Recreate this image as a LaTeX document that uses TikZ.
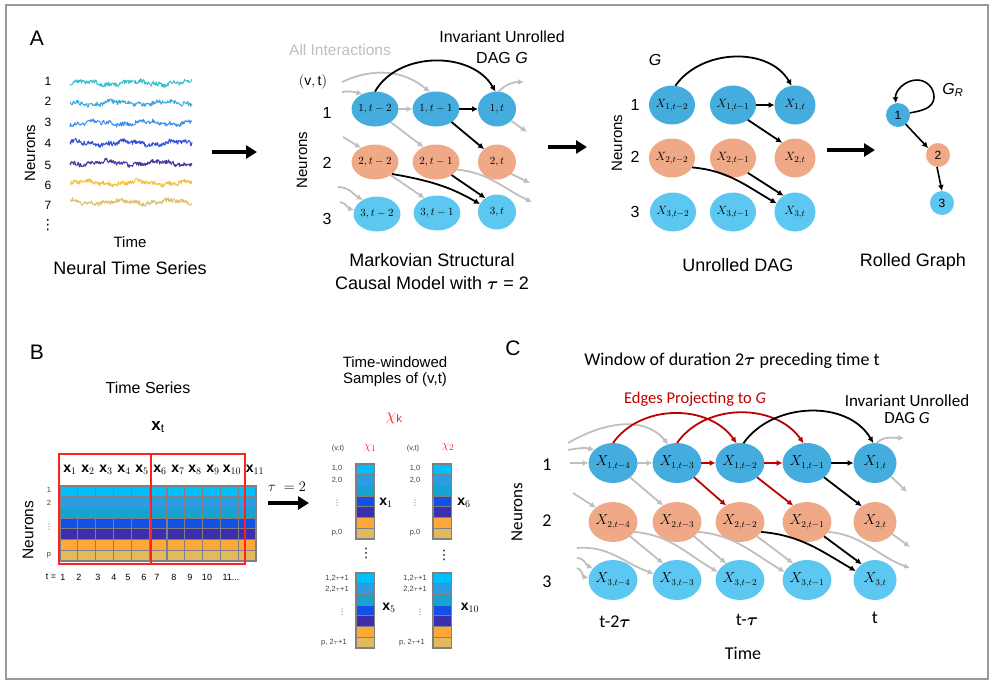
\documentclass[tikz,border=0pt]{standalone}
\usepackage{fontspec}
\setmainfont{Liberation Sans}
\newfontfamily\calib{Carlito}
\newfontfamily\djv{DejaVu Sans}
\usepackage{amsmath,bm}
\usetikzlibrary{arrows.meta,shapes.geometric}
\newcommand{\myfs}[1]{\fontsize{#1}{#1}\selectfont}
\newcommand{\vdt}{{\djv ⋮}}
\definecolor{cA}{HTML}{45ADDE}
\definecolor{cB}{HTML}{F0A986}
\definecolor{cC}{HTML}{5CC8F2}
\definecolor{ga}{HTML}{BFBFBF}
\definecolor{dred}{HTML}{C00000}
\definecolor{brd}{HTML}{FF2020}
\definecolor{frm}{HTML}{9A9A9A}
\definecolor{gl}{HTML}{808080}
\definecolor{g1}{HTML}{00BFFF}
\definecolor{g2}{HTML}{2D9DE3}
\definecolor{g3}{HTML}{17A3CF}
\definecolor{g4}{HTML}{1450E6}
\definecolor{g5}{HTML}{3B2FB0}
\definecolor{g6}{HTML}{FFA83A}
\definecolor{g7}{HTML}{E3B95F}
\definecolor{t1}{HTML}{3DBFCF}
\definecolor{t2}{HTML}{3BA8DC}
\definecolor{t3}{HTML}{3A90E8}
\definecolor{t4}{HTML}{3551D4}
\definecolor{t5}{HTML}{4B3A9E}
\definecolor{t6}{HTML}{F8BE3A}
\definecolor{t7}{HTML}{DDC070}
\tikzset{
  every node/.style={inner sep=0pt, outer sep=0pt},
  ndA/.style={ellipse, minimum width=38pt, minimum height=35pt, font=\myfs{10.5}},
  ndR/.style={ellipse, minimum width=41pt, minimum height=39pt, font=\myfs{13}},
  ndC/.style={ellipse, minimum width=43pt, minimum height=40pt, font=\myfs{13.5}},
  ra/.style={fill=cA}, rb/.style={fill=cB}, rc/.style={fill=cC},
  blk/.style={draw=black, line width=1.8pt, -{Latex[length=6pt,width=6pt]}},
  gry/.style={draw=ga, line width=1.8pt, -{Latex[length=6pt,width=6pt]}},
  redar/.style={draw=dred, line width=1.8pt, -{Latex[length=6pt,width=6pt]}},
  bigarr/.style={draw=black, line width=4pt, -{Triangle[length=11pt,width=13pt]}},
  cell/.style={draw=gl, line width=1.2pt},
  tiny/.style={font=\myfs{7.5}, text=black!75},
}
\begin{document}
\begin{tikzpicture}[x=1pt,y=1pt]
\useasboundingbox (0,0) rectangle (997,-689);
\draw[draw=frm, line width=2pt] (6,-5) rectangle (988,-679);

%% ---------------- Panel A left
\node[font=\myfs{21}] (labA) at (37,-38) {A};
\foreach \i/\yy in {1/81,2/101,3/122,4/143,5/165,6/185,7/205}
  \node[font=\myfs{12}] (nl\i) at (48,-\yy) {\i};
\node[font=\myfs{14}] (nldots) at (48,-225) {\vdt};
\node[font=\myfs{15}, rotate=90] (neurA) at (30,-153) {Neurons};
\node[font=\myfs{15}] (timeA) at (130,-242) {Time};
\node[font=\myfs{18}] (ntsA) at (130,-268) {Neural Time Series};
\pgfmathsetseed{11}
\foreach \yy/\cc in {83/t1,103/t2,123/t3,143/t4,163/t5,183/t6,202/t7}
  \draw[\cc, line width=1pt, line join=round] plot[domain=70:192, samples=200]
     (\x,{-\yy + 1.6*sin(7*\x+\yy*7) + 1.0*sin(23*\x+\yy) + 2.2*rand});
\coordinate (a1s) at (212,-152);
\coordinate (a1e) at (257,-152);
\draw[bigarr] (a1s) -- (a1e);

%% ---------------- Panel A middle
\node[font=\myfs{15.5}, text=ga] (allint) at (340,-50) {All Interactions};
\node[font=\myfs{16}] (invA1) at (502,-37) {Invariant Unrolled};
\node[font=\myfs{16}] (invA2) at (502,-58) {DAG \textit{G}};
\node[font=\myfs{14}] (vt) at (313,-82) {$(\mathrm{v},\mathrm{t})$};
\node[font=\myfs{16}] (mr1) at (327,-113) {1};
\node[font=\myfs{16}] (mr2) at (327,-163) {2};
\node[font=\myfs{16}] (mr3) at (327,-219) {3};
\node[font=\myfs{15}, rotate=90] (neurM) at (302,-160) {Neurons};
\node[ndA, ra] (m11) at (375,-109) {$1,t-2$};
\node[ndA, ra] (m12) at (436,-109) {$1,t-1$};
\node[ndA, ra] (m13) at (497,-109) {$1,t$};
\node[ndA, rb] (m21) at (375,-162) {$2,t-2$};
\node[ndA, rb] (m22) at (436,-162) {$2,t-1$};
\node[ndA, rb] (m23) at (497,-162) {$2,t$};
\node[ndA, rc] (m31) at (377,-214) {$3,t-2$};
\node[ndA, rc] (m32) at (437,-213) {$3,t-1$};
\node[ndA, rc] (m33) at (497,-212) {$3,t$};
\node[font=\myfs{18}] (mk1) at (432,-260) {Markovian Structural};
\node[font=\myfs{18}] (mk2) at (432,-283) {Causal Model with $\bm{\tau}$ = 2};
% gray free ends
\coordinate (mgi1) at (342,-82);
\coordinate (mgi2) at (342,-92);
\coordinate (mgi3) at (343,-137);
\coordinate (mgi4) at (338,-187);
\coordinate (mgi5) at (340,-202);
\coordinate (mgo1) at (524,-82);
\coordinate (mgo2) at (527,-132);
\coordinate (mgo3) at (532,-202);
\coordinate (mgo4) at (530,-183);
\draw[gry] (mgi1) to[out=25,in=140] (m12.110);
\draw[gry] (mgi2) to[out=10,in=165] (m11.130);
\draw[gry] (m11.east) -- (m12.west);
\draw[gry] (m11.-40) -- (m22.130);
\draw[gry] (m13.85) to[out=45,in=180] (mgo1);
\draw[gry] (m13.-40) -- (mgo2);
\draw[gry] (mgi3) -- (m21.135);
\draw[gry] (m21.-40) -- (m32.130);
\draw[gry] (m22.-20) to[out=-5,in=155] (mgo3);
\draw[gry] (m23.-40) -- (mgo4);
\draw[gry] (mgi4) to[out=0,in=150] (m31.135);
\draw[gry] (mgi5) to[out=-10,in=165] (m31.170);
% black
\draw[blk] (m11.90) to[out=60,in=120] (m13.95);
\draw[blk] (m12.east) -- (m13.west);
\draw[blk] (m12.-40) -- (m23.135);
\draw[blk] (m21.-35) to[out=-10,in=150] (m33.155);
\draw[blk] (m22.-40) -- (m33.130);
\coordinate (a2s) at (548,-147);
\coordinate (a2e) at (587,-147);
\draw[bigarr] (a2s) -- (a2e);

%% ---------------- Panel A right
\node[font=\myfs{16}] (Glab) at (655,-60) {\textit{G}};
\node[font=\myfs{16}] (rr1) at (635,-105) {1};
\node[font=\myfs{16}] (rr2) at (635,-157) {2};
\node[font=\myfs{16}] (rr3) at (635,-212) {3};
\node[font=\myfs{15}, rotate=90] (neurR) at (617,-143) {Neurons};
\node[ndR, ra] (r11) at (672,-105) {$X_{1,t-2}$};
\node[ndR, ra] (r12) at (733,-105) {$X_{1,t-1}$};
\node[ndR, ra] (r13) at (795,-105) {$X_{1,t}$};
\node[ndR, rb] (r21) at (672,-158) {$X_{2,t-2}$};
\node[ndR, rb] (r22) at (733,-158) {$X_{2,t-1}$};
\node[ndR, rb] (r23) at (795,-158) {$X_{2,t}$};
\node[ndR, rc] (r31) at (673,-212) {$X_{3,t-2}$};
\node[ndR, rc] (r32) at (733,-212) {$X_{3,t-1}$};
\node[ndR, rc] (r33) at (795,-212) {$X_{3,t}$};
\draw[blk] (r11.80) to[out=55,in=120] (r13.100);
\draw[blk] (r12.east) -- (r13.west);
\draw[blk] (r12.-45) -- (r23.130);
\draw[blk] (r21.-25) to[out=-5,in=150] (r33.155);
\draw[blk] (r22.-45) -- (r33.125);
\node[font=\myfs{18}] (unr) at (738,-265) {Unrolled DAG};
\coordinate (a3s) at (827,-150);
\coordinate (a3e) at (875,-150);
\draw[bigarr] (a3s) -- (a3e);
% rolled graph
\node[circle, minimum size=24pt, fill=cA, font=\myfs{12}] (q1) at (898,-115) {1};
\node[circle, minimum size=24pt, fill=cB, font=\myfs{12}] (q2) at (938,-155) {2};
\node[circle, minimum size=24pt, fill=cC, font=\myfs{12}] (q3) at (942,-203) {3};
\coordinate (lp1) at (934,-97);
\coordinate (lp2) at (917,-80);
\draw[blk, line width=1.6pt] (q1.10) to[out=10,in=-90] (lp1) to[out=90,in=0] (lp2) to[out=180,in=95] (q1.100);
\draw[blk, line width=1.6pt] (q1.-50) -- (q2.145);
\draw[blk, line width=1.6pt] (q2.-95) -- (q3.90);
\node[font=\myfs{16}] (GR) at (953,-90) {\textit{G}\textsubscript{\textit{R}}};
\node[font=\myfs{18}] (rolled) at (913,-262) {Rolled Graph};

%% ---------------- Panel B left
\node[font=\myfs{21}] (labB) at (37,-352) {B};
\node[font=\myfs{16}] (tsB) at (148,-388) {Time Series};
\node[font=\myfs{17}] (xtB) at (158,-427) {\textbf{x}\textsubscript{t}};
\foreach \c in {0,...,10}
  \foreach \r/\col in {0/g1,1/g2,2/g3,3/g4,4/g5,5/g6,6/g7}
    \filldraw[cell, fill=\col] ({60+\c*17.82},{-486-\r*10.71}) rectangle ++(17.82,-10.71);
\draw[brd, line width=1.4pt] (59,-454) rectangle (151,-564);
\draw[brd, line width=1.4pt] (151,-454) rectangle (245,-564);
\foreach \i/\xx in {1/70,2/88,3/106,4/124,5/142,6/160,7/178,8/195,9/213,10/232,11/255}
  \node[font=\myfs{14}] (xl\i) at (\xx,-470) {\textbf{x}$_{\i}$};
\node[tiny] (bl1) at (49,-490) {1};
\node[tiny] (bl2) at (49,-503) {2};
\node[tiny] (bl3) at (49,-527) {\vdt};
\node[tiny] (bl4) at (49,-555) {p};
\node[font=\myfs{15.5}, rotate=90] (neurB) at (28,-530) {Neurons};
\node[font=\myfs{9}] (teq) at (51,-577) {t =};
\foreach \i/\xx in {1/63,2/79,3/98,4/114,5/128,6/144,7/157,8/174,9/190,10/207}
  \node[font=\myfs{9}] (tn\i) at (\xx,-577) {\i};
\node[font=\myfs{9}] (tn11) at (231,-577) {11...};
\node[font=\myfs{14}] (tau2) at (287,-487) {$\tau\ =2$};
\coordinate (a4s) at (268,-503);
\coordinate (a4e) at (309,-503);
\draw[bigarr] (a4s) -- (a4e);

%% ---------------- Panel B right
\node[font=\myfs{15}] (tw1) at (395,-362) {Time-windowed};
\node[font=\myfs{15}] (tw2) at (395,-380) {Samples of (v,t)};
\node[font=\myfs{16}, text=brd] (chik) at (394,-418) {$\chi_{\mathrm{k}}$};
\node[tiny] (vt1) at (338,-449) {(v,t)};
\node[tiny] (vt2) at (413,-449) {(v,t)};
\node[font=\myfs{13}, text=brd] (chi1) at (370,-448) {$\chi_1$};
\node[font=\myfs{13}, text=brd] (chi2) at (448,-447) {$\chi_2$};
\foreach \bx/\by in {356/464,356/573,433/464,433/573}
  \foreach \r/\col in {0/g1,1/g2,2/g3,3/g4,4/g5,5/g6,6/g7}
    \filldraw[cell, fill=\col] (\bx,{-\by-\r*10.71}) rectangle ++(18.5,-10.71);
\foreach \nm/\xx in {p/337,q/415}{
  \node[tiny] (\nm a) at (\xx,-468) {1,0};
  \node[tiny] (\nm b) at (\xx,-480) {2,0};
  \node[tiny] (\nm c) at (\xx,-503) {\vdt};
  \node[tiny] (\nm d) at (\xx,-533) {p,0};
  \node[tiny] (\nm e) at (\xx,-578) {1,2$\tau$+1};
  \node[tiny] (\nm f) at (\xx,-589) {2,2$\tau$+1};
  \node[tiny] (\nm g) at ({\xx+5},-612) {\vdt};
  \node[tiny] (\nm h) at ({\xx-3},-643) {p, 2$\tau$+1};
}
\node[font=\myfs{14}] (bx1) at (386,-503) {\textbf{x}$_{1}$};
\node[font=\myfs{14}] (bx6) at (464,-503) {\textbf{x}$_{6}$};
\node[font=\myfs{14}] (bx5) at (389,-608) {\textbf{x}$_{5}$};
\node[font=\myfs{14}] (bx10) at (470,-608) {\textbf{x}$_{10}$};
\node[font=\myfs{13}] (bd1) at (366,-553) {\vdt};
\node[font=\myfs{13}] (bd2) at (444,-555) {\vdt};

%% ---------------- Panel C
\node[font=\myfs{21}] (labC) at (513,-348) {C};
\node[font=\calib\myfs{18}] (winC) at (732,-361) {Window of duration 2$\bm{\tau}$ preceding time t};
\node[font=\calib\myfs{16.5}, text=dred] (edgC) at (695,-399) {Edges Projecting to \textit{G}};
\node[font=\calib\myfs{17}] (invC1) at (907,-401) {Invariant Unrolled};
\node[font=\calib\myfs{17}] (invC2) at (907,-418) {DAG \textit{G}};
\node[font=\calib\myfs{18}] (cr1) at (547,-465) {1};
\node[font=\calib\myfs{18}] (cr2) at (547,-521) {2};
\node[font=\calib\myfs{18}] (cr3) at (547,-582) {3};
\node[font=\calib\myfs{17}, rotate=90] (neurC) at (517,-512) {Neurons};
\foreach \j/\xx/\lab in {1/613/t-4,2/677/t-3,3/740/t-2,4/807/t-1,5/875/t}{
  \node[ndC, ra] (c1\j) at (\xx,-463) {$X_{1,\lab}$};
  \node[ndC, rb] (c2\j) at (\xx,-522) {$X_{2,\lab}$};
  \node[ndC, rc] (c3\j) at (\xx,-580) {$X_{3,\lab}$};
}
\node[font=\calib\myfs{18}] (tm1) at (615,-622) {t-2$\bm{\tau}$};
\node[font=\calib\myfs{18}] (tm2) at (747,-620) {t-$\bm{\tau}$};
\node[font=\calib\myfs{18}] (tm3) at (875,-618) {t};
\node[font=\calib\myfs{18}] (timeC) at (743,-653) {Time};
% gray free ends
\coordinate (cgi1) at (568,-443);
\coordinate (cgi2) at (568,-450);
\coordinate (cgi3) at (570,-463);
\coordinate (cgi4) at (573,-493);
\coordinate (cgi5) at (577,-548);
\coordinate (cgi6) at (577,-558);
\coordinate (cgi7) at (577,-568);
\coordinate (cgo1) at (904,-438);
\coordinate (cgo2) at (907,-492);
\coordinate (cgo3) at (910,-568);
\coordinate (cgo4) at (910,-547);
\draw[gry] (cgi1) to[out=30,in=130] (c12.115);
\draw[gry] (cgi2) to[out=10,in=165] (c11.145);
\draw[gry] (cgi3) -- (c11.west);
\draw[gry] (cgi4) -- (c21.140);
\draw[gry] (cgi5) to[out=5,in=160] (c32.165);
\draw[gry] (cgi6) to[out=0,in=155] (c31.150);
\draw[gry] (cgi7) to[out=-15,in=170] (c31.175);
\draw[gry] (c11.east) -- (c12.west);
\draw[gry] (c11.-40) -- (c22.130);
\draw[gry] (c21.-40) -- (c32.130);
\draw[gry] (c21.-25) to[out=-5,in=150] (c33.160);
\draw[gry] (c22.-40) -- (c33.130);
\draw[gry] (c22.-25) to[out=-5,in=150] (c34.160);
\draw[gry] (c23.-40) -- (c34.130);
\draw[gry] (c24.-25) to[out=-5,in=160] (cgo3);
\draw[gry] (c25.-35) -- (cgo4);
\draw[gry] (c15.-40) -- (cgo2);
\draw[gry] (c15.85) to[out=45,in=180] (cgo1);
% red
\draw[redar] (c11.90) to[out=55,in=125] (c13.100);
\draw[redar] (c12.90) to[out=55,in=125] (c14.100);
\draw[redar] (c12.east) -- (c13.west);
\draw[redar] (c13.east) -- (c14.west);
\draw[redar] (c12.-40) -- (c23.130);
\draw[redar] (c13.-40) -- (c24.130);
% black
\draw[blk] (c13.80) to[out=55,in=120] (c15.95);
\draw[blk] (c14.east) -- (c15.west);
\draw[blk] (c14.-40) -- (c25.130);
\draw[blk] (c23.-25) to[out=-5,in=150] (c35.155);
\draw[blk] (c24.-40) -- (c35.130);
\end{tikzpicture}
\end{document}
